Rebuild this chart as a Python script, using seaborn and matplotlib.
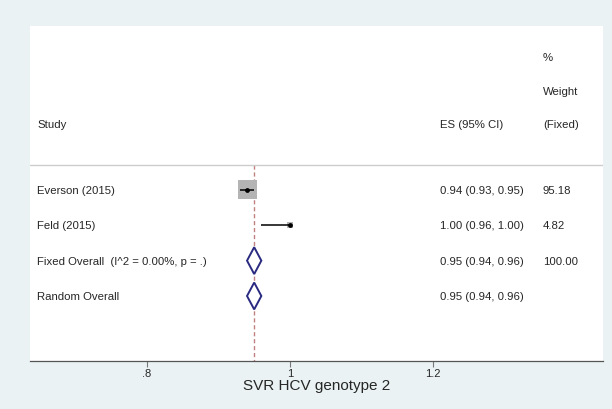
#forest plot of SVR in HCV genotype 2 (fixed effect meta-analysis)
import pandas as pd
import numpy as np
from matplotlib import pyplot as plt
import seaborn as sns

#study level data
studies = ['Everson (2015)', 'Feld (2015)']
es = [0.94, 1.00]
lower = [0.93, 0.96]
upper = [0.95, 1.00]
weight = [95.18, 4.82]

#pooled estimates
pooled_labels = ['Fixed Overall  (I^2 = 0.00%, p = .)', 'Random Overall']
pooled_es = [0.95, 0.95]
pooled_lower = [0.94, 0.94]
pooled_upper = [0.96, 0.96]
pooled_weight = ['100.00', '']

xticks = [0.8, 1.0, 1.2]
xticklabels = ['.8', '1', '1.2']

df = pd.DataFrame({'study': studies, 'es': es, 'lower': lower, 'upper': upper, 'weight': weight})
df['row'] = np.arange(1, len(df) + 1)
pooled = pd.DataFrame({'label': pooled_labels, 'es': pooled_es, 'lower': pooled_lower,
                       'upper': pooled_upper, 'weight': pooled_weight})
pooled['row'] = np.arange(len(df) + 1, len(df) + len(pooled) + 1)

sns.set_style('white')
plt.rcParams['font.family'] = ['Liberation Sans', 'DejaVu Sans']

bg = '#eaf2f3'
fig = plt.figure(figsize=(6.12, 4.10), dpi=100, facecolor=bg)
ax = fig.add_axes([30/612, 48/410, 573/612, 335/410])
ax.set_facecolor('white')

#weighted squares
sns.scatterplot(data=df, x='es', y='row', size='weight', sizes=(188*4.82/95.18, 188),
                size_norm=(0, 95.18), marker='s', color='#b4b4b4', linewidth=0,
                legend=False, ax=ax, zorder=2)
#confidence intervals
ax.hlines(df['row'], df['lower'], df['upper'], color='black', lw=1.1, zorder=3)
#point estimates
sns.scatterplot(data=df, x='es', y='row', color='black', s=12, linewidth=0,
                legend=False, ax=ax, zorder=4)

#diamonds for pooled estimates
for _, r in pooled.iterrows():
    ax.fill([r['lower'], r['es'], r['upper'], r['es']],
            [r['row'], r['row'] - 0.38, r['row'], r['row'] + 0.38],
            facecolor='white', edgecolor='#2a2a80', lw=1.4, zorder=3)

#overall effect line
sep = 0.29
ax.vlines(pooled_es[0], sep, 5.84, color='#c08080', lw=1, linestyles=(0, (3, 2)), zorder=1)
ax.axhline(sep, color='#cccccc', lw=1)

#text columns
fs = 8.2
x_study, x_es, x_wt = 0.647, 1.209, 1.353
ax.text(x_study, -0.87, 'Study', fontsize=fs, va='center')
ax.text(x_es, -0.87, 'ES (95% CI)', fontsize=fs, va='center')
ax.text(x_wt, -2.76, '%', fontsize=fs, va='center')
ax.text(x_wt, -1.80, 'Weight', fontsize=fs, va='center')
ax.text(x_wt, -0.87, '(Fixed)', fontsize=fs, va='center')
for _, r in df.iterrows():
    ax.text(x_study, r['row'], r['study'], fontsize=fs, va='center')
    ax.text(x_es, r['row'], f"{r['es']:.2f} ({r['lower']:.2f}, {r['upper']:.2f})", fontsize=fs, va='center')
    ax.text(x_wt, r['row'], f"{r['weight']:.2f}", fontsize=fs, va='center')
for _, r in pooled.iterrows():
    ax.text(x_study, r['row'], r['label'], fontsize=fs, va='center')
    ax.text(x_es, r['row'], f"{r['es']:.2f} ({r['lower']:.2f}, {r['upper']:.2f})", fontsize=fs, va='center')
    ax.text(x_wt, r['row'], r['weight'], fontsize=fs, va='center')

ax.set_xlim(0.637, 1.437)
ax.set_ylim(5.84, -3.64)
ax.set_yticks([])
ax.set_xticks(xticks)
ax.set_xticklabels(xticklabels, fontsize=8)
ax.tick_params(axis='x', direction='out', length=4, width=0.8, color='#777777', pad=1, bottom=True)
for s in ['top', 'left', 'right']:
    ax.spines[s].set_visible(False)
ax.spines['bottom'].set_color('#555555')
ax.spines['bottom'].set_linewidth(0.9)
ax.set_xlabel('SVR HCV genotype 2', fontsize=11, labelpad=0)
ax.set_ylabel('')

fig.savefig('out.png', dpi=100, facecolor=bg)
